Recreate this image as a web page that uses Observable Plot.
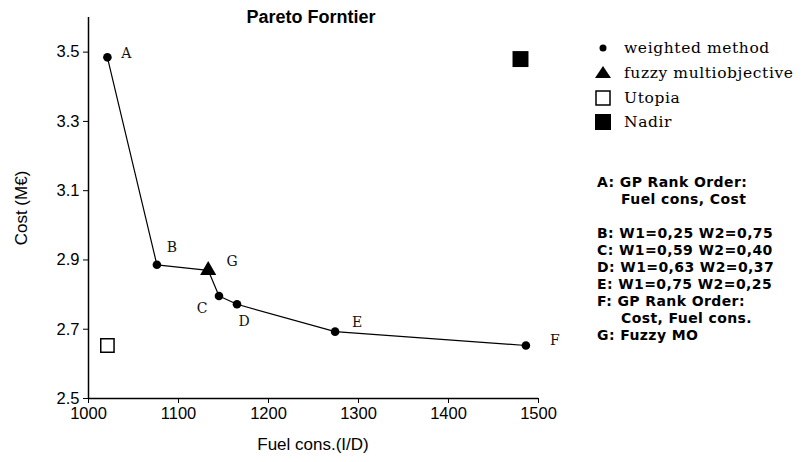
<!DOCTYPE html>
<html><head><meta charset="utf-8">
<script src="https://cdn.jsdelivr.net/npm/d3@7"></script>
<script src="https://cdn.jsdelivr.net/npm/@observablehq/plot@0.6"></script>
<style>
body{margin:0;background:#fff;}
#wrap{position:relative;width:811px;height:462px;font-family:"Liberation Sans",Arial,sans-serif;}
#title{position:absolute;left:0;width:622px;top:7px;text-align:center;font-weight:bold;font-size:18px;}
#xlab{position:absolute;left:88px;width:450px;top:435px;text-align:center;font-size:17px;}
#ylab{position:absolute;left:22px;top:208px;transform:translate(-50%,-50%) rotate(-90deg);font-size:17px;white-space:nowrap;}
#legend{position:absolute;left:592px;top:36px;font-family:"DejaVu Serif","Liberation Serif",serif;font-size:15.5px;letter-spacing:0.6px;white-space:nowrap;}
#legend div{height:24.7px;display:flex;align-items:center;}
#legend svg{width:22px;height:20px;margin-right:10px;flex:none;}
#notes{position:absolute;left:597px;top:174px;font-family:"DejaVu Sans",sans-serif;font-weight:bold;font-size:14px;letter-spacing:0.4px;line-height:17px;}
#notes div{white-space:pre;}
#notes div.ind{padding-left:24px;}
</style></head>
<body><div id="wrap"><div id="chart"></div>
<div id="title">Pareto Forntier</div>
<div id="xlab">Fuel cons.(I/D)</div>
<div id="ylab">Cost (M€)</div>
<div id="legend"></div>
<div id="notes"></div>
</div>
<script>
// data
const labels = ["A","B","G","C","D","E","F"];
const fuel   = [1021,1076,1133,1145,1165,1274,1486];
const cost   = [3.485,2.886,2.87,2.796,2.772,2.693,2.653];
const method = ["weighted","weighted","fuzzy","weighted","weighted","weighted","weighted"];
const utopia = {fuel:1021, cost:2.653};
const nadir  = {fuel:1480, cost:3.48};
const xTicks = [1000,1100,1200,1300,1400,1500];
const yTicks = [2.5,2.7,2.9,3.1,3.3,3.5];
const legendItems = ["weighted method","fuzzy multiobjective","Utopia","Nadir"];
const notes = ["A: GP Rank Order:","  Fuel cons, Cost","","B: W1=0,25 W2=0,75","C: W1=0,59 W2=0,40","D: W1=0,63 W2=0,37","E: W1=0,75 W2=0,25","F: GP Rank Order:","  Cost, Fuel cons.","G: Fuzzy MO"];

const pts = labels.map((l,i)=>({label:l, fuel:fuel[i], cost:cost[i], method:method[i]}));
// label offsets (layout)
const off = {A:[19,-4],B:[15,-17],G:[24,-9],C:[-17,13],D:[7,17],E:[22,-9],F:[29,-5]};

const chart = Plot.plot({
  width:811, height:462,
  marginLeft:88, marginRight:273, marginTop:17, marginBottom:64,
  style:{fontFamily:"Liberation Sans, Arial, sans-serif", fontSize:"16.5px", color:"#000"},
  x:{domain:[1000,1500], ticks:xTicks, tickSize:5, tickPadding:4, label:null, tickFormat:d=>String(d)},
  y:{domain:[2.5,3.6], ticks:yTicks, tickSize:5, tickPadding:4, label:null, tickFormat:d3.format(".1f")},
  marks:[
    Plot.ruleX([1000],{stroke:"#000",strokeWidth:1.5}),
    Plot.ruleY([2.5],{x1:1000,x2:1500,stroke:"#000",strokeWidth:1.5}),
    Plot.line(pts,{x:"fuel",y:"cost",stroke:"#000",strokeWidth:1.2}),
    Plot.dot(pts.filter(d=>d.method==="weighted"),{x:"fuel",y:"cost",r:4.3,fill:"#000"}),
    Plot.dot(pts.filter(d=>d.method==="fuzzy"),{x:"fuel",y:"cost",r:6,symbol:"triangle",fill:"#000"}),
    Plot.dot([utopia],{x:"fuel",y:"cost",r:7.5,symbol:"square",fill:"#fff",stroke:"#000",strokeWidth:1.5}),
    Plot.dot([nadir],{x:"fuel",y:"cost",r:9,symbol:"square",fill:"#000"}),
    ...pts.map(p=>Plot.text([p],{x:"fuel",y:"cost",text:"label",dx:off[p.label][0],dy:off[p.label][1],
      fontFamily:"DejaVu Serif, Liberation Serif, serif",fontSize:14,fill:"#111"}))
  ]
});
document.getElementById("chart").appendChild(chart);

// legend
const leg = document.getElementById("legend");
const sym = [
  '<circle cx="11" cy="10" r="3.5" fill="#000"/>',
  '<path d="M11 3 L19 15 L3 15 Z" fill="#000"/>',
  '<rect x="4" y="3" width="14" height="14" fill="#fff" stroke="#000" stroke-width="1.5"/>',
  '<rect x="3" y="2" width="16" height="16" fill="#000"/>'
];
legendItems.forEach((t,i)=>{
  const d=document.createElement("div");
  d.innerHTML='<svg viewBox="0 0 22 20">'+sym[i]+'</svg><span>'+t+'</span>';
  leg.appendChild(d);
});
const nt=document.getElementById("notes");
notes.forEach(t=>{const d=document.createElement("div");
  if(t.startsWith("  ")){d.className="ind";d.textContent=t.trim();} else d.textContent=t||" ";
  nt.appendChild(d);});
</script></body></html>
